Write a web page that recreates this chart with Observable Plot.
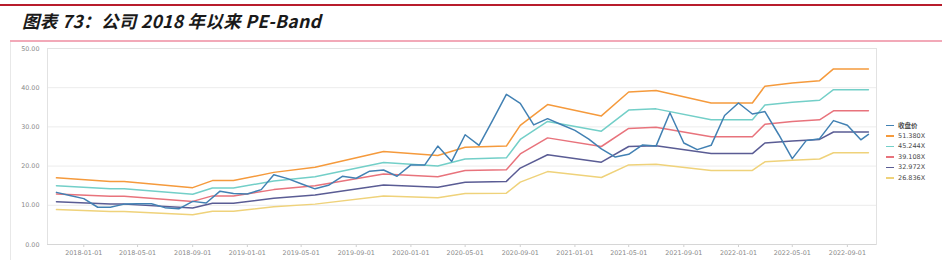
<!DOCTYPE html>
<html><head><meta charset="utf-8">
<script src="https://cdn.jsdelivr.net/npm/d3@7"></script>
<script src="https://cdn.jsdelivr.net/npm/@observablehq/plot@0.6"></script>
<style>
body{margin:0;width:942px;height:260px;overflow:hidden;background:#fff;position:relative;font-family:"DejaVu Sans",sans-serif}
#top{position:absolute;left:0;top:4px;width:942px;height:1.5px;background:#b81c2c}
#title{position:absolute;left:22px;top:8px;font:italic bold 17.5px "Noto Sans CJK SC",sans-serif;letter-spacing:0.3px;color:#1a1a1a;white-space:nowrap}
#sep{position:absolute;left:10px;top:40px;width:932px;height:2px;background:#f2a9b8}
#vline{position:absolute;left:10px;top:42px;width:1px;height:218px;background:#e8e8e8}
#chart{position:absolute;left:0;top:0}
#legend{position:absolute;left:886px;top:120px;font:6.5px "DejaVu Sans",sans-serif;color:#4a4a4a}
.item{height:10.5px;display:flex;align-items:center;white-space:nowrap}
.sw{width:8px;height:1.5px;margin-right:4px}
.cjk{font-family:"Noto Sans CJK SC",sans-serif;font-weight:bold}
</style></head><body>
<div id="top"></div>
<div id="title">图表 73：公司 2018 年以来 PE-Band</div>
<div id="sep"></div>
<div id="vline"></div>
<div id="chart"></div>
<div id="legend"></div>
<script>
const seriesNames = ["收盘价", "51.380X", "45.244X", "39.108X", "32.972X", "26.836X"];
const seriesColors = ["#4281b3", "#f59a3c", "#73cfc8", "#e8737c", "#5a5c94", "#efd27a"];

const closeDates = [
  "2017-11-01","2017-12-01",
  "2018-01-01","2018-02-01","2018-03-01","2018-04-01","2018-05-01","2018-06-01","2018-07-01","2018-08-01","2018-09-01","2018-10-01","2018-11-01","2018-12-01",
  "2019-01-01","2019-02-01","2019-03-01","2019-04-01","2019-05-01","2019-06-01","2019-07-01","2019-08-01","2019-09-01","2019-10-01","2019-11-01","2019-12-01",
  "2020-01-01","2020-02-01","2020-03-01","2020-04-01","2020-05-01","2020-06-01","2020-07-01","2020-08-01","2020-09-01","2020-10-01","2020-11-01","2020-12-01",
  "2021-01-01","2021-02-01","2021-03-01","2021-04-01","2021-05-01","2021-06-01","2021-07-01","2021-08-01","2021-09-01","2021-10-01","2021-11-01","2021-12-01",
  "2022-01-01","2022-02-01","2022-03-01","2022-04-01","2022-05-01","2022-06-01","2022-07-01","2022-08-01","2022-09-01","2022-10-01","2022-10-18"
];
const closePrice = [
  13.3,12.5,
  11.7,9.5,9.5,10.3,10.4,10.4,9.4,9.1,11.0,10.6,13.6,13.0,
  12.9,14.0,17.8,16.8,15.5,14.2,15.1,17.4,16.9,18.7,19.0,17.4,
  20.3,20.3,25.1,21.2,28.0,25.3,31.6,38.3,36.0,30.5,32.1,30.6,
  29.1,26.9,24.4,22.3,23.0,25.4,25.1,33.6,25.9,24.2,25.3,32.9,
  36.1,33.3,33.9,28.0,21.9,26.5,27.0,31.6,30.4,26.7,28.1
];

const bandDates = [
  "2017-11-01","2018-03-01","2018-04-01","2018-09-01","2018-10-15","2018-12-01","2019-03-01","2019-06-01",
  "2019-11-01","2020-03-01","2020-05-01","2020-08-01","2020-09-01","2020-11-01","2021-03-01","2021-05-01",
  "2021-07-01","2021-11-01","2022-02-01","2022-03-01","2022-05-01","2022-07-01","2022-08-01","2022-10-18"
];
const band51 = [17.0,16.1,16.1,14.5,16.3,16.3,18.4,19.7,23.7,22.7,24.8,25.1,30.4,35.7,32.8,38.9,39.3,36.1,36.1,40.4,41.2,41.8,44.8,44.8];
const band45 = [15.0,14.2,14.2,12.8,14.4,14.4,16.2,17.3,20.9,20.0,21.8,22.1,26.8,31.4,28.9,34.3,34.6,31.8,31.8,35.6,36.3,36.8,39.5,39.5];
const band39 = [12.9,12.3,12.3,11.0,12.4,12.4,14.0,15.0,18.0,17.3,18.9,19.1,23.1,27.2,25.0,29.6,29.9,27.5,27.5,30.7,31.4,31.8,34.1,34.1];
const band33 = [10.9,10.3,10.3,9.3,10.5,10.5,11.8,12.6,15.2,14.6,15.9,16.1,19.5,22.9,21.0,25.0,25.2,23.2,23.2,25.9,26.4,26.8,28.7,28.7];
const band27 = [8.9,8.4,8.4,7.6,8.5,8.5,9.6,10.3,12.4,11.9,13.0,13.1,15.9,18.6,17.1,20.3,20.5,18.9,18.9,21.1,21.5,21.8,23.4,23.4];

const xTickLabels = ["2018-01-01","2018-05-01","2018-09-01","2019-01-01","2019-05-01","2019-09-01","2020-01-01","2020-05-01","2020-09-01","2021-01-01","2021-05-01","2021-09-01","2022-01-01","2022-05-01","2022-09-01"];
const yTicks = [0, 10, 20, 30, 40, 50];

const closeData = closeDates.map((d, i) => ({date: new Date(d), v: closePrice[i]}));
const bands = [band51, band45, band39, band33, band27];
const bandData = bands.map(arr => bandDates.map((d, i) => ({date: new Date(d), v: arr[i]})));

const plot = Plot.plot({
  width: 942,
  height: 260,
  marginLeft: 47,
  marginRight: 66,
  marginTop: 48,
  marginBottom: 16,
  style: {background: "transparent", fontFamily: "DejaVu Sans, sans-serif", fontSize: "6.4px", color: "#8a8a8a"},
  x: {type: "utc", domain: [new Date("2017-10-12"), new Date("2022-11-05")]},
  y: {domain: [0, 50]},
  marks: [
    Plot.gridY(yTicks, {stroke: "#ececec", strokeOpacity: 1}),
    Plot.frame({stroke: "#e2e2e2"}),
    Plot.axisY(yTicks, {tickFormat: d => d.toFixed(2), tickSize: 0, tickPadding: 8, label: null, fill: "#8a8a8a"}),
    Plot.axisX(xTickLabels.map(d => new Date(d)), {tickFormat: d3.utcFormat("%Y-%m-%d"), tickSize: 3, tickPadding: 3, label: null, stroke: "#d0d0d0", fill: "#8a8a8a"}),
    Plot.ruleY([0], {stroke: "#d6d6d6"}),
    ...bandData.map((data, i) => Plot.line(data, {x: "date", y: "v", stroke: seriesColors[i + 1], strokeWidth: 1.5})),
    Plot.line(closeData, {x: "date", y: "v", stroke: seriesColors[0], strokeWidth: 1.5})
  ]
});
document.getElementById("chart").appendChild(plot);

const legend = document.getElementById("legend");
seriesNames.forEach((name, i) => {
  const item = document.createElement("div");
  item.className = "item";
  const sw = document.createElement("span");
  sw.className = "sw";
  sw.style.background = seriesColors[i];
  const t = document.createElement("span");
  t.textContent = name;
  if (i === 0) t.className = "cjk";
  item.appendChild(sw);
  item.appendChild(t);
  legend.appendChild(item);
});
</script>
</body></html>
